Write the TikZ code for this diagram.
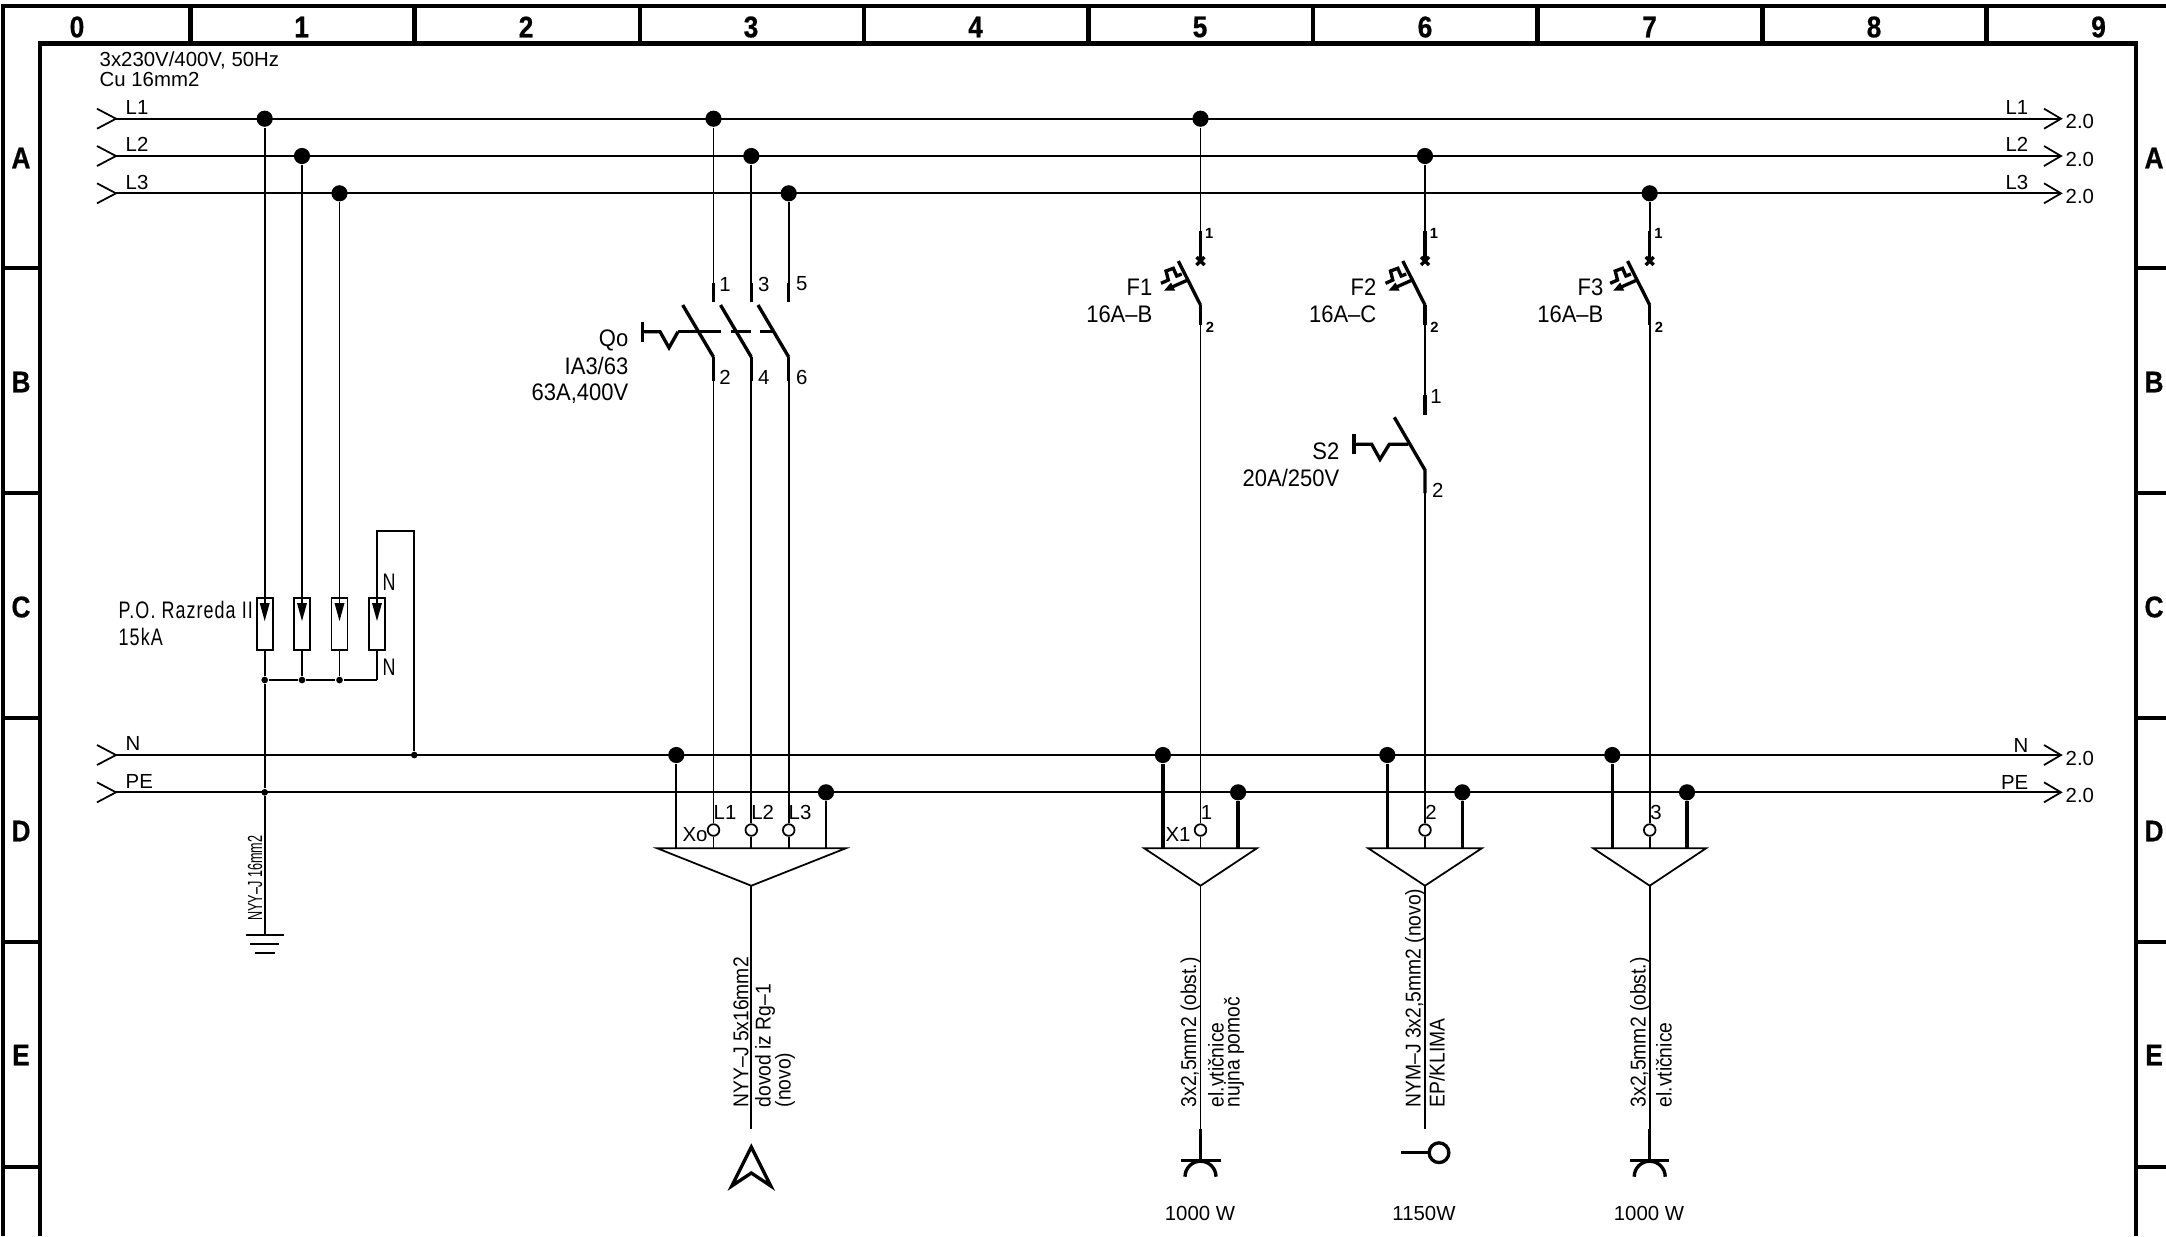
\documentclass[tikz,border=0pt]{standalone}
\usepackage{fontspec}
\setmainfont{Liberation Sans}
\newfontfamily\cadfont{Liberation Sans}
\newfontfamily\cadbig[FakeStretch=0.92]{Liberation Sans}
\newfontfamily\cadcable[FakeStretch=0.9]{Liberation Sans}
\newfontfamily\cadspaced[FakeStretch=0.75,LetterSpace=4.5]{Liberation Sans}
\newfontfamily\cadgrid[FakeStretch=0.88,FakeBold=0.6]{Liberation Sans Bold}
\usetikzlibrary{positioning,calc}

\begin{document}
\begin{tikzpicture}
  [x=0.1mm,y=-0.1mm,
   thinW/.style={line width=0.5pt},
   thickW/.style={line width=0.95pt},
   frameW/.style={line width=1.2pt},
   bigDot/.style={circle,fill=black,inner sep=0pt,minimum size=4.6pt},
   smallDot/.style={circle,fill=black,inner sep=0pt,minimum size=1.9pt},
   termN/.style={circle,draw,fill=white,thinW,inner sep=0pt,minimum size=3.3pt},
   spdN/.style={rectangle,draw,thinW,inner sep=0pt,minimum width=4.55pt,minimum height=14.7pt},
   gridL/.style={font=\cadgrid\fontsize{8.5}{10}\selectfont,inner sep=0pt},
   smallT/.style={font=\cadfont\fontsize{5.8}{7}\selectfont,inner sep=0pt},
   bigT/.style={font=\cadbig\fontsize{6.8}{8}\selectfont,inner sep=0pt},
   spacedT/.style={font=\cadspaced\fontsize{6.8}{8}\selectfont,inner sep=0pt},
   cableT/.style={font=\cadcable\fontsize{6.1}{7}\selectfont,inner sep=0pt,rotate=90,anchor=west},
   pinT/.style={font=\fontsize{4.2}{5}\bfseries\selectfont,inner sep=0pt}]

  \useasboundingbox (0,0) rectangle (2166,1236);

  % frame
  \draw [frameW] (3,1236) -- (3,6) -- (2166,6);
  \draw [frameW] (40,1236) -- (40,43.5) -- (2136,43.5) -- (2136,1236);
  \draw [frameW] (190.6,6) -- (190.6,43.5);
  \draw [frameW] (414.6,6) -- (414.6,43.5);
  \draw [frameW] (639.6,6) -- (639.6,43.5);
  \draw [frameW] (863.8,6) -- (863.8,43.5);
  \draw [frameW] (1088.5,6) -- (1088.5,43.5);
  \draw [frameW] (1312.6,6) -- (1312.6,43.5);
  \draw [frameW] (1537.5,6) -- (1537.5,43.5);
  \draw [frameW] (1762.4,6) -- (1762.4,43.5);
  \draw [frameW] (1986.5,6) -- (1986.5,43.5);
  \draw [frameW] (3,268) -- (40,268) (2136,268) -- (2166,268);
  \draw [frameW] (3,493) -- (40,493) (2136,493) -- (2166,493);
  \draw [frameW] (3,718) -- (40,718) (2136,718) -- (2166,718);
  \draw [frameW] (3,942) -- (40,942) (2136,942) -- (2166,942);
  \draw [frameW] (3,1167) -- (40,1167) (2136,1167) -- (2166,1167);

  \node[gridL] (c0) at (77,27) {0};
  \node[gridL] (c1) at (301.6,27) {1};
  \node[gridL] (c2) at (526,27) {2};
  \node[gridL] (c3) at (751,27) {3};
  \node[gridL] (c4) at (975.5,27) {4};
  \node[gridL] (c5) at (1200,27) {5};
  \node[gridL] (c6) at (1425,27) {6};
  \node[gridL] (c7) at (1649.5,27) {7};
  \node[gridL] (c8) at (1874,27) {8};
  \node[gridL] (c9) at (2098.5,27) {9};
  \node[gridL] (rA) at (21,158) {A};
  \node[gridL] (rB) at (21,382) {B};
  \node[gridL] (rC) at (21,607) {C};
  \node[gridL] (rD) at (21,831) {D};
  \node[gridL] (rE) at (21,1055) {E};
  \node[gridL] (sA) at (2154,158) {A};
  \node[gridL] (sB) at (2154,382) {B};
  \node[gridL] (sC) at (2154,607) {C};
  \node[gridL] (sD) at (2154,831) {D};
  \node[gridL] (sE) at (2154,1055) {E};

  \node[smallT,anchor=west] (supply) at (99,60) {3x230V/400V, 50Hz};
  \node[smallT,anchor=west] (cu) at (99,79) {Cu 16mm2};

  % buses
  \path (116,118.7) coordinate (l1a) (2061,118.7) coordinate (l1b)
        (116,156) coordinate (l2a) (2061,156) coordinate (l2b)
        (116,193.3) coordinate (l3a) (2061,193.3) coordinate (l3b)
        (116,755) coordinate (na) (2061,755) coordinate (nb)
        (116,792.3) coordinate (pa) (2061,792.3) coordinate (pb);
  \draw [thinW] (l1a) -- (l1b);
  \draw [thinW] (l2a) -- (l2b);
  \draw [thinW] (l3a) -- (l3b);
  \draw [thinW] (na) -- (nb);
  \draw [thinW] (pa) -- (pb);
  \draw [thinW] (97,108.7) -- (l1a) -- (97,128.7);
  \draw [thinW] (97,146) -- (l2a) -- (97,166);
  \draw [thinW] (97,183.3) -- (l3a) -- (97,203.3);
  \draw [thinW] (97,745) -- (na) -- (97,765);
  \draw [thinW] (97,782.3) -- (pa) -- (97,802.3);
  \draw [thinW] (2044,108.7) -- (l1b) -- (2044,128.7);
  \draw [thinW] (2044,146) -- (l2b) -- (2044,166);
  \draw [thinW] (2044,183.3) -- (l3b) -- (2044,203.3);
  \draw [thinW] (2044,745) -- (nb) -- (2044,765);
  \draw [thinW] (2044,782.3) -- (pb) -- (2044,802.3);

  \node[smallT,anchor=west] (tl1) at (125,107) {L1};
  \node[smallT,anchor=west] (tl2) at (125,144.5) {L2};
  \node[smallT,anchor=west] (tl3) at (125,182) {L3};
  \node[smallT,anchor=west] (tn) at (125,743) {N};
  \node[smallT,anchor=west] (tpe) at (125,781) {PE};
  \node[smallT,anchor=east] (ul1) at (2029,107) {L1};
  \node[smallT,anchor=east] (ul2) at (2029,144.5) {L2};
  \node[smallT,anchor=east] (ul3) at (2029,182) {L3};
  \node[smallT,anchor=east] (un) at (2029,745) {N};
  \node[smallT,anchor=east] (upe) at (2029,782) {PE};
  \node[smallT,anchor=west] (r1) at (2065,121.5) {2.0};
  \node[smallT,anchor=west] (r2) at (2065,159) {2.0};
  \node[smallT,anchor=west] (r3) at (2065,196.5) {2.0};
  \node[smallT,anchor=west] (r4) at (2065,758) {2.0};
  \node[smallT,anchor=west] (r5) at (2065,795) {2.0};

  % surge arresters
  \node[bigDot] (d1) at (264.7,118.7) {};
  \node[bigDot] (d2) at (302,156) {};
  \node[bigDot] (d3) at (339.5,193.3) {};
  \node[spdN] (s1) at (264.7,624) {};
  \node[spdN] (s2) at (302,624) {};
  \node[spdN] (s3) at (339.5,624) {};
  \node[spdN] (s4) at (377,624) {};
  \node[smallDot] (j1) at (264.7,680) {};
  \node[smallDot] (j2) at (302,680) {};
  \node[smallDot] (j3) at (339.5,680) {};
  \coordinate (j4) at (377,680);
  \node[smallDot] (jn) at (414.3,755) {};
  \node[smallDot] (jp) at (264.7,792.3) {};
  \coordinate (g1) at (264.7,935);
  \coordinate (w1) at (377,530.7);
  \coordinate (w2) at (414.3,530.7);
  \draw [thinW] (d1) -- (s1.center |- 264.7,604);
  \draw [thinW] (d2) -- (s2.center |- 302,604);
  \draw [thinW] (d3) -- (s3.center |- 339.5,604);
  \draw [thinW] (377,604) -- (w1) -- (w2) -- (jn);
  \draw [thinW] (s1) -- (j1) -- (jp) -- (g1);
  \draw [thinW] (s2) -- (j2);
  \draw [thinW] (s3) -- (j3);
  \draw [thinW] (s4) -- (j4);
  \draw [thinW] (j1) -- (j2) -- (j3) -- (j4);
  \fill (259.7,603) -- (269.7,603) -- (264.7,621) -- cycle;
  \fill (297,603) -- (307,603) -- (302,621) -- cycle;
  \fill (334.5,603) -- (344.5,603) -- (339.5,621) -- cycle;
  \fill (372,603) -- (382,603) -- (377,621) -- cycle;
  \draw [thinW] (245.7,935) -- (283.7,935) (250,944) -- (279,944) (255,953) -- (275,953);
  \node[spacedT,anchor=west] (po) at (118,610) {P.O. Razreda II};
  \node[spacedT,anchor=west] (ka) at (118,637) {15kA};
  \node[spacedT,anchor=west] (n1) at (382,582) {N};
  \node[spacedT,anchor=west] (n2) at (382,667) {N};
  \node[smallT,rotate=90,anchor=west,xscale=0.62] (gcab) at (255,921) {NYY–J 16mm2};

  % main switch Qo
  \node[bigDot] (d4) at (713.5,118.7) {};
  \node[bigDot] (d5) at (751.3,156) {};
  \node[bigDot] (d6) at (788.7,193.3) {};
  \path (713.5,302) coordinate (q1) (751.3,302) coordinate (q3) (788.7,302) coordinate (q5)
        (713.5,357) coordinate (q2) (751.3,357) coordinate (q4) (788.7,357) coordinate (q6)
        (713.5,381) coordinate (q2b) (751.3,381) coordinate (q4b) (788.7,381) coordinate (q6b);
  \draw [thinW] (d4) -- (q1);
  \draw [thinW] (d5) -- (q3);
  \draw [thinW] (d6) -- (q5);
  \draw [thickW] (713.5,283) -- (q1) (751.3,283) -- (q3) (788.7,283) -- (q5);
  \draw [thickW] (q2) -- (q2b) (q4) -- (q4b) (q6) -- (q6b);
  \draw [thickW] (682.7,305) -- (q2);
  \draw [thickW] (720.5,305) -- (q4);
  \draw [thickW] (758,305) -- (q6);
  \draw [thickW] (678,331.7) -- (720.7,331.7) (730.7,331.7) -- (750.7,331.7) (760,331.7) -- (774,331.7);
  \draw [thickW] (642.7,321.7) -- (642.7,341.7);
  \draw [thickW] (642.7,331.7) -- (660,331.7) -- (669,347.7) -- (678,331.7);
  \node[smallT] (p1) at (725,284) {1};
  \node[smallT] (p3) at (763.7,284) {3};
  \node[smallT] (p5) at (801.7,284) {5};
  \node[smallT] (p2) at (725,377) {2};
  \node[smallT] (p4) at (763.7,377) {4};
  \node[smallT] (p6) at (801.7,377) {6};
  \node[bigT,anchor=east] (qo) at (629,340) {Qo};
  \node[bigT,anchor=east] (ia) at (629,366) {IA3/63};
  \node[bigT,anchor=east] (qa) at (629,394) {63A,400V};

  % breakers
  \node[bigDot] (d7) at (1200.5,118.7) {};
  \node[bigDot] (d8) at (1425,156) {};
  \node[bigDot] (d9) at (1649.7,193.3) {};
  \path (1200.5,261) coordinate (f1) (1200.5,305) coordinate (f2) (1200.5,325) coordinate (f2b)
        (1425,261) coordinate (f3) (1425,305) coordinate (f4) (1425,325) coordinate (f4b)
        (1649.7,261) coordinate (f5) (1649.7,305) coordinate (f6) (1649.7,325) coordinate (f6b)
        (1425,395) coordinate (z1a) (1425,415) coordinate (z1) (1425,470) coordinate (z2) (1425,493) coordinate (z2b);
  \draw [thinW] (d7) -- (1200.5,231);
  \draw [thinW] (d8) -- (1425,231);
  \draw [thinW] (d9) -- (1649.7,231);
  \draw [thickW] (1200.5,231) -- (f1) (1425,231) -- (f3) (1649.7,231) -- (f5);
  \draw [thickW] (f2) -- (f2b) (f4) -- (f4b) (f6) -- (f6b);
  \draw [thickW] (1196.5,257) -- (1204.5,265) (1196.5,265) -- (1204.5,257);
  \draw [thickW] (1421,257) -- (1429,265) (1421,265) -- (1429,257);
  \draw [thickW] (1645.7,257) -- (1653.7,265) (1645.7,265) -- (1653.7,257);
  \draw [thickW] (1178.3,261) -- (f2);
  \draw [thickW] (1402.8,261) -- (f4);
  \draw [thickW] (1627.5,261) -- (f6);
  \draw [thickW] (1161,283.3) -- (1168.3,280) -- (1166,271) -- (1173.3,268.3) -- (1176.7,276) -- (1181.7,274);
  \draw [thickW] (1385.5,283.3) -- (1392.8,280) -- (1390.5,271) -- (1397.8,268.3) -- (1401.2,276) -- (1406.2,274);
  \draw [thickW] (1610.2,283.3) -- (1617.5,280) -- (1615.2,271) -- (1622.5,268.3) -- (1625.9,276) -- (1630.9,274);
  \draw [thickW] (1187.7,280) -- (1172,287);
  \draw [thickW] (1412.2,280) -- (1396.5,287);
  \draw [thickW] (1636.9,280) -- (1621.2,287);
  \fill (1164,290.7) -- (1171,282.5) -- (1175,290.5) -- cycle;
  \fill (1388.5,290.7) -- (1395.5,282.5) -- (1399.5,290.5) -- cycle;
  \fill (1613.2,290.7) -- (1620.2,282.5) -- (1624.2,290.5) -- cycle;
  \node[pinT] (b1) at (1209.3,233) {1};
  \node[pinT] (b2) at (1210,327) {2};
  \node[pinT] (b3) at (1434,233) {1};
  \node[pinT] (b4) at (1434.5,327) {2};
  \node[pinT] (b5) at (1658.5,233) {1};
  \node[pinT] (b6) at (1659,327) {2};
  \node[bigT,anchor=east] (tf1) at (1153,287) {F1};
  \node[bigT,anchor=east] (ta1) at (1153,314) {16A–B};
  \node[bigT,anchor=east] (tf2) at (1377,287) {F2};
  \node[bigT,anchor=east] (ta2) at (1377,314) {16A–C};
  \node[bigT,anchor=east] (tf3) at (1604,287) {F3};
  \node[bigT,anchor=east] (ta3) at (1604,314) {16A–B};

  % switch S2
  \draw [thinW] (f4b) -- (z1a);
  \draw [thickW] (z1a) -- (z1);
  \draw [thickW] (1394.3,417.3) -- (z2) -- (z2b);
  \draw [thickW] (1354,434) -- (1354,454);
  \draw [thickW] (1354,444.3) -- (1371.7,444.3) -- (1380,459.3) -- (1389.3,444.3) -- (1408.3,444.3);
  \node[smallT] (s2a) at (1436,396.7) {1};
  \node[smallT] (s2b) at (1437.7,490) {2};
  \node[bigT,anchor=east] (ts2) at (1340,451.7) {S2};
  \node[bigT,anchor=east] (ts3) at (1340,478) {20A/250V};

  % terminals Xo
  \node[bigDot] (dn0) at (676.3,755) {};
  \node[bigDot] (dp0) at (826,792.3) {};
  \node[termN] (t1) at (713.5,830) {};
  \node[termN] (t2) at (751.3,830) {};
  \node[termN] (t3) at (788.7,830) {};
  \draw [thinW] (q2b) -- (t1) -- (713.5,848.3);
  \draw [thinW] (q4b) -- (t2) -- (751.3,848.3);
  \draw [thinW] (q6b) -- (t3) -- (788.7,848.3);
  \draw [thinW] (dn0) -- (676.3,848.3);
  \draw [thinW] (dp0) -- (826,848.3);
  \draw [thinW] (657.3,848.3) -- (845.7,848.3) -- (751.3,885.7) -- cycle;
  \node[smallT] (lx) at (695,835) {Xo};
  \node[smallT] (lx1) at (725,812.7) {L1};
  \node[smallT] (lx2) at (762.7,812.7) {L2};
  \node[smallT] (lx3) at (800,812.7) {L3};

  % terminals X1
  \node[bigDot] (dn1) at (1162.9,755) {};
  \node[bigDot] (dp1) at (1238.1,792.3) {};
  \node[termN] (t4) at (1200.5,830) {};
  \draw [thinW] (f2b) -- (t4) -- (1200.5,848.3);
  \draw [thickW] (dn1) -- (1162.9,848.3);
  \draw [thickW] (dp1) -- (1238.1,848.3);
  \draw [thinW] (1144.3,848.3) -- (1256.8,848.3) -- (1200.5,885.7) -- cycle;
  \node[smallT] (lx4) at (1178,834) {X1};
  \node[smallT] (lx5) at (1206.5,812.7) {1};

  % terminals 2
  \node[bigDot] (dn2) at (1387.3,755) {};
  \node[bigDot] (dp2) at (1462.3,792.3) {};
  \node[termN] (t5) at (1425,830) {};
  \draw [thinW] (z2b) -- (t5) -- (1425,848.3);
  \draw [thickW] (dn2) -- (1387.3,848.3);
  \draw [thickW] (dp2) -- (1462.3,848.3);
  \draw [thinW] (1368.3,848.3) -- (1481.7,848.3) -- (1425,885.7) -- cycle;
  \node[smallT] (lx6) at (1431,812.7) {2};

  % terminals 3
  \node[bigDot] (dn3) at (1612.3,755) {};
  \node[bigDot] (dp3) at (1687,792.3) {};
  \node[termN] (t6) at (1649.7,830) {};
  \draw [thinW] (f6b) -- (t6) -- (1649.7,848.3);
  \draw [thickW] (dn3) -- (1612.3,848.3);
  \draw [thickW] (dp3) -- (1687,848.3);
  \draw [thinW] (1593.3,848.3) -- (1706,848.3) -- (1649.7,885.7) -- cycle;
  \node[smallT] (lx7) at (1656,812.7) {3};

  % outgoing cables
  \draw [thinW] (751.3,885.7) -- (751.3,1129.3);
  \draw [thinW] (1200.5,885.7) -- (1200.5,1129.3);
  \draw [thinW] (1425,885.7) -- (1425,1129.3);
  \draw [thinW] (1649.7,885.7) -- (1649.7,1129.3);
  \draw [thickW] (1200.5,1129.3) -- (1200.5,1160.7);
  \draw [thickW] (1649.7,1129.3) -- (1649.7,1160.7);

  \draw [thickW] (751.3,1147) -- (731.8,1186) -- (751.3,1173) -- (770.8,1186) -- cycle;
  \draw [thickW] (1180.7,1160.7) -- (1220.5,1160.7);
  \draw [thickW] (1185,1176.7) arc (180:360:15.5);
  \draw [thickW] (1630,1160.7) -- (1669.3,1160.7);
  \draw [thickW] (1634.2,1176.7) arc (180:360:15.5);
  \node[circle,draw,thickW,inner sep=0pt,minimum size=5.6pt] (lamp) at (1439,1152.7) {};
  \coordinate (lamp0) at (1401,1152.7);
  \draw [thickW] (lamp0) -- (lamp);

  \node[cableT] (k1) at (741,1108) {NYY–J 5x16mm2};
  \node[cableT] (k2) at (765,1108) {dovod iz Rg–1};
  \node[cableT] (k3) at (785,1108) {(novo)};
  \node[cableT] (k4) at (1190.5,1108) {3x2,5mm2 (obst.)};
  \node[cableT] (k5) at (1216,1108) {el.vtičnice};
  \node[cableT] (k6) at (1234,1108) {nujna pomoč};
  \node[cableT] (k7) at (1415,1108) {NYM–J 3x2,5mm2 (novo)};
  \node[cableT] (k8) at (1437,1108) {EP/KLIMA};
  \node[cableT] (k9) at (1640,1108) {3x2,5mm2 (obst.)};
  \node[cableT] (k10) at (1664,1108) {el.vtičnice};

  \node[smallT] (w1t) at (1200,1213) {1000 W};
  \node[smallT] (w2t) at (1424,1213) {1150W};
  \node[smallT] (w3t) at (1649,1213) {1000 W};
\end{tikzpicture}
\end{document}
